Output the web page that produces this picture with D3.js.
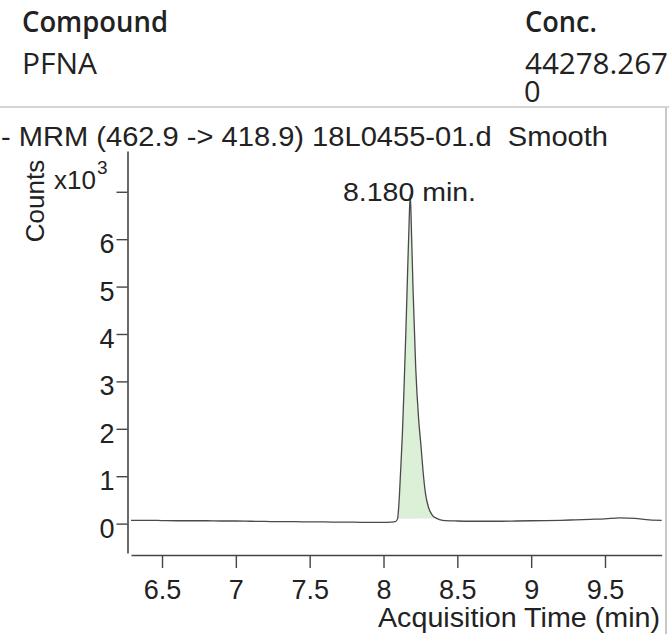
<!DOCTYPE html>
<html>
<head>
<meta charset="utf-8">
<script src="https://cdn.jsdelivr.net/npm/d3@7/dist/d3.min.js"></script>
<style>
  html, body { margin: 0; padding: 0; background: #fff; }
  svg { display: block; }
</style>
</head>
<body>
<script>
// ---- data (counts in units of 10^3) ----
const headerLabels = ["Compound", "Conc."];
const compoundName = "PFNA";
const concLines = ["44278.267", "0"];
const titleText = "- MRM (462.9 -> 418.9) 18L0455-01.d\u00A0\u00A0Smooth";
const peakLabel = "8.180 min.";
const xTicks = [6.5, 7, 7.5, 8, 8.5, 9, 9.5];
const yTicks = [0, 1, 2, 3, 4, 5, 6, 7];
const yTickLabels = ["0", "1", "2", "3", "4", "5", "6", ""];
const times = [6.29, 6.4, 6.5, 6.6, 6.7, 6.8, 6.9, 7.0, 7.1, 7.2, 7.3, 7.4, 7.5, 7.6, 7.7, 7.8, 7.9, 8.0, 8.05, 8.08,
  8.095, 8.105, 8.115, 8.128, 8.14, 8.152, 8.164, 8.173, 8.181,
  8.19, 8.2, 8.218, 8.238, 8.255, 8.268, 8.285, 8.305, 8.33, 8.36, 8.4,
  8.5, 8.6, 8.7, 8.8, 8.9, 9.0, 9.1, 9.2, 9.3, 9.4, 9.5, 9.6, 9.7, 9.8, 9.884];
const counts = [0.07, 0.07, 0.065, 0.06, 0.06, 0.06, 0.055, 0.055, 0.05, 0.045, 0.04, 0.04, 0.035, 0.035, 0.03, 0.03, 0.025, 0.025, 0.03, 0.04,
  0.1, 0.45, 1.05, 1.9, 2.95, 4.1, 5.4, 6.3, 6.95,
  6.1, 4.95, 3.3, 2.2, 1.6, 1.1, 0.62, 0.34, 0.18, 0.11, 0.07,
  0.055, 0.05, 0.05, 0.05, 0.055, 0.06, 0.065, 0.07, 0.08, 0.09, 0.1, 0.12, 0.11, 0.08, 0.07];
const peakStart = 8.095, peakEnd = 8.36;

const W = 669, H = 634;
const svg = d3.select("body").append("svg").attr("width", W).attr("height", H);
const FONT = "'Liberation Sans', Arial, sans-serif";
const HFONT = "'Open Sans', 'Noto Sans', sans-serif";
const ink = "#222";

function fit(sel, len) { return sel.attr("textLength", len).attr("lengthAdjust", "spacingAndGlyphs"); }

// ---- header table ----
fit(svg.append("text").attr("x", 22).attr("y", 32).attr("font-family", HFONT).attr("font-weight", 600)
  .attr("font-size", 29).attr("fill", ink).text(headerLabels[0]), 146);
fit(svg.append("text").attr("x", 525).attr("y", 32).attr("font-family", HFONT).attr("font-weight", 600)
  .attr("font-size", 29).attr("fill", ink).text(headerLabels[1]), 72);
fit(svg.append("text").attr("x", 22).attr("y", 74).attr("font-family", HFONT)
  .attr("font-size", 29).attr("fill", ink).text(compoundName), 75);
const conc = svg.append("text").attr("x", 525).attr("y", 74).attr("font-family", HFONT)
  .attr("font-size", 29).attr("fill", ink);
fit(conc.append("tspan").attr("x", 525).attr("y", 74).text(concLines[0]), 143);
conc.append("tspan").attr("x", 524).attr("y", 102).text(concLines[1]);
svg.append("line").attr("x1", 0).attr("x2", W).attr("y1", 107).attr("y2", 107).attr("stroke", "#d4d4d4").attr("stroke-width", 2);
svg.append("line").attr("x1", 666).attr("x2", 666).attr("y1", 108).attr("y2", H).attr("stroke", "#c8c8c8").attr("stroke-width", 2);

// ---- title ----
fit(svg.append("text").attr("x", 1).attr("y", 146).attr("font-family", FONT).attr("font-size", 27)
  .attr("fill", ink).text(titleText), 607);

// ---- scales ----
const x = d3.scaleLinear().domain([6.29, 9.884]).range([131, 661.7]);
const y = d3.scaleLinear().domain([-0.62, 7.86]).range([553, 151]);
const pts = times.map((t, i) => [t, counts[i]]);

// peak fill
const peakPts = pts.filter(p => p[0] >= peakStart && p[0] <= peakEnd);
const b0 = peakPts[0][1], b1 = peakPts[peakPts.length - 1][1];
const baseAt = t => b0 + (b1 - b0) * (t - peakStart) / (peakEnd - peakStart);
svg.append("path").datum(peakPts)
  .attr("d", d3.area().x(d => x(d[0])).y1(d => y(d[1])).y0(d => y(baseAt(d[0]))).curve(d3.curveMonotoneX))
  .attr("fill", "#dcefd7").attr("stroke", "none");

// trace
svg.append("path").datum(pts)
  .attr("d", d3.line().x(d => x(d[0])).y(d => y(d[1])).curve(d3.curveMonotoneX))
  .attr("fill", "none").attr("stroke", "#4a4a4a").attr("stroke-width", 1.3);

// ---- axes ----
const axisColor = "#444";
const gx = svg.append("g").attr("transform", "translate(0,555)")
  .call(d3.axisBottom(x).tickValues(xTicks).tickFormat(d3.format("")).tickSize(13).tickSizeOuter(0));
gx.select(".domain").attr("stroke", axisColor).attr("stroke-width", 1.6);
gx.selectAll(".tick line").attr("stroke", axisColor).attr("stroke-width", 1.4);
gx.selectAll(".tick text").attr("font-family", FONT).attr("font-size", 27).attr("fill", ink).attr("dy", 0).attr("y", 44);

const gy = svg.append("g").attr("transform", "translate(127.5,0)")
  .call(d3.axisLeft(y).tickValues(yTicks).tickFormat((d, i) => yTickLabels[i]).tickSize(11).tickSizeOuter(0));
gy.select(".domain").attr("stroke", axisColor).attr("stroke-width", 1.6);
gy.selectAll(".tick line").attr("stroke", axisColor).attr("stroke-width", 1.4);
gy.selectAll(".tick text").attr("font-family", FONT).attr("font-size", 27).attr("fill", ink)
  .attr("x", -13).attr("dy", "0.5em");

// axis titles
svg.append("text").attr("transform", "translate(44,201) rotate(-90)").attr("text-anchor", "middle")
  .attr("font-family", FONT).attr("font-size", 26).attr("fill", ink).text("Counts");
const mult = svg.append("text").attr("x", 54).attr("y", 189).attr("font-family", FONT).attr("font-size", 26).attr("fill", ink);
mult.append("tspan").text("x10");
mult.append("tspan").attr("font-size", 19).attr("dy", -15).attr("dx", 1).text("3");
fit(svg.append("text").attr("x", 660).attr("y", 627).attr("text-anchor", "end")
  .attr("font-family", FONT).attr("font-size", 27).attr("fill", ink).text("Acquisition Time (min)"), 282);

// peak label
fit(svg.append("text").attr("x", 343).attr("y", 201).attr("font-family", FONT).attr("font-size", 26)
  .attr("fill", ink).text(peakLabel), 133);
</script>
</body>
</html>
